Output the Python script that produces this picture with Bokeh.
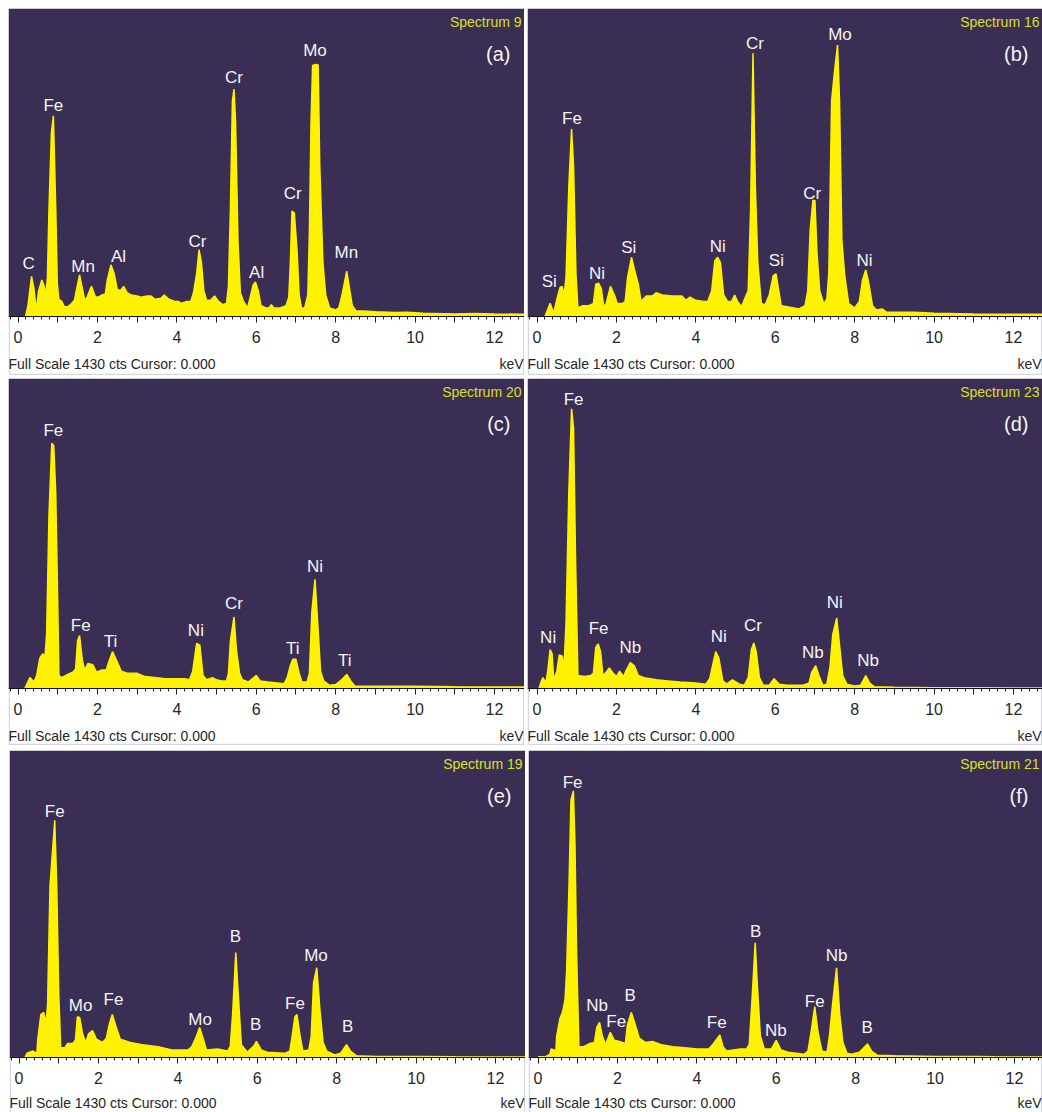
#!/usr/bin/env python3
from bokeh.embed import file_html
from bokeh.layouts import column, row
from bokeh.models import BoxAnnotation, FixedTicker, Label, Range1d
from bokeh.plotting import figure
from bokeh.resources import INLINE
from bokeh.core.properties import value

FULL_SCALE = 1430
TICK_KEV = [0, 1, 2, 3, 4, 5, 6, 7, 8, 9, 10, 11, 12]
TICK_LABELS = ['0', '', '2', '', '4', '', '6', '', '8', '', '10', '', '12']
MINOR_KEV = [i * 0.2 for i in range(-1, 65)]

# spectrum 9
KEV_A = [0.19, 0.25, 0.34, 0.40, 0.46, 0.52, 0.6, 0.66, 0.70, 0.74, 0.78, 0.84, 0.89, 0.95, 0.99, 1.03, 1.1, 1.17, 1.25, 1.35, 1.42, 1.48, 1.55, 1.62, 1.68, 1.74, 1.85, 1.95, 2.02, 2.12, 2.2, 2.25, 2.34, 2.42, 2.5, 2.58, 2.66, 2.75, 2.85, 3.0, 3.1, 3.25, 3.35, 3.45, 3.6, 3.68, 3.8, 3.95, 4.05, 4.1, 4.25, 4.35, 4.42, 4.5, 4.56, 4.62, 4.68, 4.75, 4.85, 4.95, 5.05, 5.15, 5.25, 5.3, 5.35, 5.4, 5.44, 5.48, 5.54, 5.6, 5.68, 5.78, 5.85, 5.92, 5.98, 6.05, 6.12, 6.25, 6.32, 6.38, 6.45, 6.6, 6.75, 6.82, 6.86, 6.9, 6.96, 7.03, 7.08, 7.14, 7.22, 7.3, 7.34, 7.38, 7.42, 7.5, 7.56, 7.6, 7.68, 7.75, 7.85, 8.0, 8.08, 8.15, 8.28, 8.35, 8.42, 8.52, 8.7, 9.0, 9.5, 9.8, 10.2, 11, 11.5, 12, 12.76]
CTS_A = [0, 50, 186, 130, 30, 120, 170, 140, 100, 180, 500, 850, 932, 500, 150, 80, 70, 45, 45, 60, 75, 130, 193, 130, 75, 90, 140, 90, 90, 100, 105, 170, 240, 200, 125, 120, 140, 110, 100, 95, 90, 95, 95, 80, 85, 100, 80, 70, 70, 60, 70, 70, 110, 200, 310, 250, 120, 75, 75, 95, 70, 55, 60, 140, 500, 1000, 1056, 900, 350, 110, 70, 40, 90, 145, 160, 120, 50, 40, 40, 55, 40, 40, 50, 90, 250, 490, 480, 300, 100, 40, 40, 100, 400, 900, 1165, 1170, 1168, 700, 250, 100, 40, 30, 40, 90, 210, 130, 50, 25, 25, 22, 18, 20, 15, 12, 14, 12, 10]
NAMES_A = ['C', 'Fe', 'Mn', 'Al', 'Cr', 'Cr', 'Al', 'Cr', 'Mo', 'Mn']
NAME_KEV_A = [0.27, 0.89, 1.64, 2.53, 4.52, 5.44, 6.01, 6.92, 7.48, 8.27]
NAME_CTS_A = [244, 978, 232, 278, 348, 1109, 206, 572, 1233, 299]

# spectrum 16
KEV_B = [0.2, 0.33, 0.42, 0.5, 0.58, 0.63, 0.68, 0.73, 0.8, 0.87, 0.92, 0.98, 1.03, 1.15, 1.3, 1.42, 1.48, 1.55, 1.62, 1.68, 1.74, 1.85, 1.95, 2.02, 2.15, 2.22, 2.28, 2.38, 2.45, 2.55, 2.62, 2.75, 2.9, 3.0, 3.15, 3.4, 3.65, 3.75, 3.85, 4.0, 4.2, 4.3, 4.4, 4.48, 4.55, 4.62, 4.7, 4.8, 4.9, 4.98, 5.05, 5.15, 5.25, 5.32, 5.38, 5.44, 5.5, 5.56, 5.65, 5.75, 5.85, 5.95, 6.02, 6.08, 6.15, 6.3, 6.6, 6.75, 6.82, 6.88, 6.95, 7.0, 7.05, 7.12, 7.22, 7.3, 7.35, 7.42, 7.5, 7.57, 7.62, 7.68, 7.75, 7.85, 8.0, 8.12, 8.2, 8.28, 8.35, 8.45, 8.55, 8.7, 8.8, 9.5, 10, 11, 12, 12.73]
CTS_B = [0, 62, 15, 80, 135, 140, 100, 180, 600, 870, 700, 200, 40, 50, 50, 60, 150, 155, 130, 45, 60, 140, 100, 60, 60, 70, 180, 275, 220, 150, 70, 95, 95, 110, 100, 95, 95, 75, 90, 75, 70, 70, 120, 260, 275, 250, 100, 70, 70, 100, 70, 45, 90, 120, 500, 1222, 600, 250, 60, 55, 100, 190, 198, 130, 50, 45, 35, 50, 120, 400, 540, 538, 300, 120, 60, 80, 200, 1000, 1150, 1260, 1000, 350, 190, 60, 40, 70, 170, 216, 160, 50, 30, 35, 20, 20, 15, 12, 10, 10]
NAMES_B = ['Si', 'Fe', 'Ni', 'Si', 'Ni', 'Cr', 'Si', 'Cr', 'Mo', 'Ni']
NAME_KEV_B = [0.31, 0.88, 1.51, 2.31, 4.55, 5.49, 6.03, 6.93, 7.63, 8.25]
NAME_CTS_B = [162, 920, 198, 320, 325, 1268, 260, 572, 1310, 260]

# spectrum 20
KEV_C = [0.17, 0.3, 0.4, 0.47, 0.55, 0.62, 0.68, 0.72, 0.78, 0.85, 0.9, 0.95, 0.99, 1.03, 1.1, 1.25, 1.38, 1.45, 1.5, 1.55, 1.62, 1.68, 1.76, 1.88, 1.98, 2.1, 2.22, 2.3, 2.38, 2.48, 2.6, 2.75, 3.0, 3.2, 3.5, 3.7, 4.2, 4.32, 4.4, 4.5, 4.58, 4.66, 4.75, 4.9, 5.0, 5.12, 5.25, 5.3, 5.35, 5.44, 5.5, 5.58, 5.65, 5.8, 5.9, 6.0, 6.1, 6.3, 6.7, 6.78, 6.85, 6.92, 7.0, 7.08, 7.15, 7.28, 7.34, 7.4, 7.48, 7.55, 7.62, 7.7, 7.85, 8.0, 8.12, 8.28, 8.38, 8.48, 9, 10, 11, 12, 12.76]
CTS_C = [0, 51, 30, 60, 140, 160, 150, 250, 800, 1131, 1120, 900, 500, 60, 50, 65, 75, 90, 220, 244, 130, 85, 115, 110, 75, 85, 85, 130, 170, 130, 80, 70, 70, 55, 50, 45, 45, 40, 80, 208, 200, 60, 40, 50, 40, 35, 35, 70, 220, 330, 180, 70, 40, 30, 45, 60, 35, 30, 22, 50, 100, 135, 135, 70, 30, 30, 70, 350, 504, 300, 80, 35, 15, 18, 35, 65, 35, 12, 10, 10, 8, 7, 7]
NAMES_C = ['Fe', 'Fe', 'Ti', 'Ni', 'Cr', 'Ti', 'Ni', 'Ti']
NAME_KEV_C = [0.89, 1.58, 2.33, 4.48, 5.44, 6.92, 7.48, 8.23]
NAME_CTS_C = [1188, 291, 218, 268, 394, 183, 562, 131]

# spectrum 23
KEV_D = [0.05, 0.1, 0.15, 0.22, 0.27, 0.33, 0.38, 0.42, 0.5, 0.56, 0.63, 0.68, 0.73, 0.8, 0.87, 0.92, 0.97, 1.03, 1.2, 1.35, 1.42, 1.48, 1.54, 1.6, 1.66, 1.72, 1.82, 1.92, 2.0, 2.08, 2.18, 2.25, 2.35, 2.45, 2.55, 2.7, 3.0, 3.3, 3.6, 4.0, 4.25, 4.35, 4.5, 4.58, 4.68, 4.78, 4.92, 5.1, 5.22, 5.32, 5.4, 5.46, 5.52, 5.6, 5.7, 5.85, 5.97, 6.1, 6.3, 6.7, 6.85, 6.92, 7.02, 7.1, 7.2, 7.3, 7.38, 7.45, 7.55, 7.62, 7.7, 7.8, 8.0, 8.15, 8.28, 8.38, 8.5, 9, 10, 11, 12, 12.73]
CTS_D = [0, 30, 50, 25, 80, 180, 160, 40, 80, 155, 150, 100, 300, 900, 1290, 1200, 600, 60, 55, 60, 70, 190, 206, 170, 60, 70, 95, 70, 55, 80, 55, 85, 120, 105, 60, 50, 40, 35, 30, 25, 20, 45, 170, 140, 35, 20, 40, 20, 15, 50, 180, 210, 170, 50, 15, 15, 45, 20, 15, 15, 25, 75, 105, 60, 15, 20, 100, 250, 325, 200, 60, 20, 12, 15, 60, 25, 8, 6, 4, 3, 2, 2]
NAMES_D = ['Ni', 'Fe', 'Fe', 'Nb', 'Ni', 'Cr', 'Nb', 'Ni', 'Nb']
NAME_KEV_D = [0.28, 0.92, 1.55, 2.35, 4.58, 5.44, 6.95, 7.5, 8.34]
NAME_CTS_D = [237, 1335, 278, 190, 240, 291, 167, 399, 131]

# spectrum 19
KEV_E = [0.15, 0.2, 0.35, 0.45, 0.47, 0.55, 0.62, 0.68, 0.72, 0.78, 0.9, 0.95, 1.0, 1.05, 1.15, 1.22, 1.35, 1.42, 1.47, 1.53, 1.6, 1.68, 1.75, 1.85, 1.95, 2.1, 2.2, 2.28, 2.35, 2.45, 2.55, 2.8, 3.1, 3.5, 3.85, 4.25, 4.35, 4.45, 4.55, 4.65, 4.72, 5.0, 5.25, 5.32, 5.38, 5.46, 5.52, 5.6, 5.75, 5.92, 5.98, 6.1, 6.25, 6.7, 6.82, 6.88, 6.95, 7.0, 7.08, 7.15, 7.3, 7.36, 7.42, 7.5, 7.58, 7.66, 7.75, 7.95, 8.1, 8.25, 8.35, 8.5, 9, 10, 11, 12, 12.76]
CTS_E = [0, 20, 30, 20, 80, 200, 210, 160, 250, 800, 1105, 800, 300, 45, 45, 65, 65, 80, 190, 185, 110, 70, 110, 125, 85, 70, 90, 160, 200, 140, 85, 70, 60, 50, 35, 35, 50, 90, 140, 80, 35, 40, 30, 50, 200, 489, 300, 60, 25, 55, 75, 35, 25, 20, 30, 100, 190, 200, 100, 30, 35, 100, 350, 418, 220, 70, 30, 12, 20, 60, 30, 8, 5, 5, 3, 2, 2]
NAMES_E = ['Fe', 'Mo', 'Fe', 'Mo', 'B', 'B', 'Fe', 'Mo', 'B']
NAME_KEV_E = [0.9, 1.55, 2.38, 4.56, 5.45, 5.96, 6.95, 7.48, 8.28]
NAME_CTS_E = [1146, 244, 271, 179, 562, 152, 252, 476, 144]

# spectrum 21
KEV_F = [0.0, 0.2, 0.3, 0.33, 0.4, 0.45, 0.47, 0.55, 0.62, 0.68, 0.72, 0.78, 0.83, 0.89, 0.93, 0.97, 1.03, 1.15, 1.3, 1.42, 1.48, 1.55, 1.62, 1.7, 1.82, 1.92, 2.05, 2.2, 2.25, 2.35, 2.42, 2.55, 2.7, 2.88, 3.1, 3.4, 3.7, 4.0, 4.3, 4.4, 4.58, 4.66, 4.75, 5.1, 5.25, 5.32, 5.4, 5.47, 5.52, 5.6, 5.7, 5.88, 6.0, 6.12, 6.3, 6.7, 6.8, 6.88, 6.97, 7.05, 7.15, 7.28, 7.34, 7.42, 7.52, 7.6, 7.68, 7.78, 7.9, 8.1, 8.3, 8.4, 8.55, 9, 10, 11, 11.5, 12, 12.7]
CTS_F = [3, 5, 15, 40, 35, 30, 100, 180, 213, 270, 400, 800, 1200, 1242, 1000, 500, 50, 50, 65, 70, 140, 164, 100, 60, 117, 80, 75, 65, 150, 210, 170, 90, 70, 75, 60, 50, 45, 40, 40, 60, 105, 50, 30, 40, 40, 60, 300, 534, 350, 100, 40, 40, 80, 35, 25, 15, 30, 120, 237, 120, 30, 25, 100, 250, 418, 200, 70, 20, 15, 25, 63, 30, 10, 8, 5, 5, 3, 2, 2]
NAMES_F = ['Fe', 'Nb', 'Fe', 'B', 'Fe', 'B', 'Nb', 'Fe', 'Nb', 'B']
NAME_KEV_F = [0.87, 1.49, 1.97, 2.32, 4.5, 5.48, 5.99, 6.97, 7.52, 8.29]
NAME_CTS_F = [1281, 244, 167, 288, 164, 585, 128, 263, 473, 141]

FONT = 'Liberation Sans'
BG = '#3b2e54'
YELLOW = '#fff200'
DARK = '#262626'


def panel(kev, cts, names, name_kev, name_cts, spectrum, tag, width, height, strip, margin, closed=True):
    # the frame covers the white strip too, so the axis sits at 0 cts inside it
    cts_per_px = FULL_SCALE / (height - strip)
    y_start = -strip * cts_per_px
    x_start, x_end = -0.24, -0.24 + width / 39.7
    p = figure(width=width, height=height, output_backend='svg', toolbar_location=None,
               x_range=Range1d(x_start, x_end), y_range=Range1d(y_start, FULL_SCALE),
               y_axis_location=None, min_border_left=0, min_border_right=0, min_border_top=0,
               min_border_bottom=0, background_fill_color='white', border_fill_color='white',
               outline_line_color=None, margin=margin)
    p.grid.visible = False

    p.add_layout(BoxAnnotation(bottom=0, fill_color=BG, fill_alpha=1, line_alpha=0, level='underlay'))
    p.varea(kev, 0, cts, fill_color=YELLOW)
    p.line(kev, cts, line_color=YELLOW, line_width=1.5)
    p.text(name_kev, name_cts, text=names, text_color='#f4f4f4', text_font=value(FONT),
           text_font_size='17px', text_align='center', text_baseline='middle')

    axis = p.xaxis[0]
    axis.fixed_location = 0
    axis.ticker = FixedTicker(ticks=TICK_KEV, minor_ticks=MINOR_KEV)
    axis.major_label_overrides = dict(zip(TICK_KEV, TICK_LABELS))
    axis.axis_line_color = '#111111'
    axis.major_tick_line_color = '#222222'
    axis.minor_tick_line_color = '#222222'
    axis.major_tick_in = 0
    axis.major_tick_out = 6
    axis.minor_tick_in = 0
    axis.minor_tick_out = 3
    axis.major_label_standoff = 8
    axis.major_label_text_font = FONT
    axis.major_label_text_font_size = '16px'
    axis.major_label_text_color = DARK

    # line round the white strip, the last row is cut off below the page
    strip_bottom = y_start + cts_per_px if closed else y_start - 5 * cts_per_px
    p.add_layout(BoxAnnotation(left=x_start + 0.02, right=x_end - 0.02, top=0, bottom=strip_bottom,
                               fill_alpha=0, line_color='#6f76a6', line_width=1.5, level='underlay'))

    text_drop = -47 if closed else -45
    p.add_layout(Label(x=x_end, y=FULL_SCALE, x_offset=-3, y_offset=-13, text=spectrum,
                       text_color='#d9e021', text_font=FONT, text_font_size='14px',
                       text_align='right', text_baseline='middle'))
    p.add_layout(Label(x=x_end, y=FULL_SCALE, x_offset=-14, y_offset=-45, text=tag,
                       text_color='#f4f4f4', text_font=FONT, text_font_size='20px',
                       text_align='right', text_baseline='middle'))
    p.add_layout(Label(x=x_start, y=0, x_offset=0, y_offset=text_drop, text='Full Scale 1430 cts Cursor: 0.000',
                       text_color=DARK, text_font=FONT, text_font_size='14px',
                       text_align='left', text_baseline='middle'))
    p.add_layout(Label(x=x_end, y=0, x_offset=-1, y_offset=text_drop, text='keV',
                       text_color=DARK, text_font=FONT, text_font_size='14px',
                       text_align='right', text_baseline='middle'))
    return p


p_a = panel(KEV_A, CTS_A, NAMES_A, NAME_KEV_A, NAME_CTS_A, 'Spectrum 9', '(a)', 516, 367, 59, (0, 3, 3, 0))
p_b = panel(KEV_B, CTS_B, NAMES_B, NAME_KEV_B, NAME_CTS_B, 'Spectrum 16', '(b)', 515, 367, 59, (0, 0, 3, 0))
p_c = panel(KEV_C, CTS_C, NAMES_C, NAME_KEV_C, NAME_CTS_C, 'Spectrum 20', '(c)', 516, 367, 57, (0, 3, 5, 0))
p_d = panel(KEV_D, CTS_D, NAMES_D, NAME_KEV_D, NAME_CTS_D, 'Spectrum 23', '(d)', 515, 367, 57, (0, 0, 5, 0))
p_e = panel(KEV_E, CTS_E, NAMES_E, NAME_KEV_E, NAME_CTS_E, 'Spectrum 19', '(e)', 516, 362, 55, (0, 3, 0, 1), closed=False)
p_f = panel(KEV_F, CTS_F, NAMES_F, NAME_KEV_F, NAME_CTS_F, 'Spectrum 21', '(f)', 514, 362, 55, (0, 0, 0, 0), closed=False)

layout = column(row(p_a, p_b), row(p_c, p_d), row(p_e, p_f), spacing=0, margin=(8, 0, 0, 8))
open('out.html', 'w').write(file_html(layout, INLINE))
